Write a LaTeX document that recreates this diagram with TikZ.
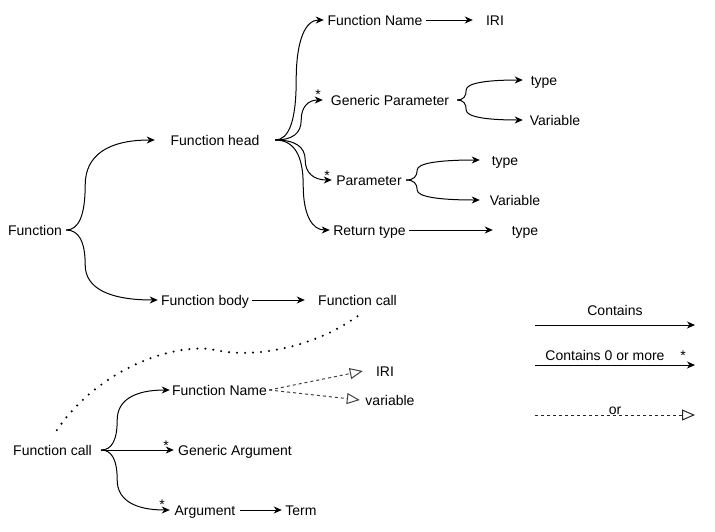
\documentclass[tikz,border=0pt]{standalone}
\usepackage{fontspec}
\setmainfont{Liberation Sans}
\usetikzlibrary{arrows.meta,calc}
\begin{document}
\begin{tikzpicture}[x=1pt,y=-1pt,
  lbl/.style={font=\fontsize{14}{16}\selectfont, inner sep=0pt, text height=10pt, text depth=0pt, minimum height=14pt, align=center},
  starlbl/.style={font=\fontsize{14}{16}\selectfont, inner sep=0pt},
  arr/.style={draw=black, line width=1pt, -{Stealth[length=8pt,width=7pt,inset=2.5pt]}},
  orarr/.style={draw=black!75, line width=1pt, dash pattern=on 3pt off 3pt, -{Triangle[open,length=13pt,width=11pt]}},
  dotline/.style={draw=black, line width=2.3pt, line cap=round, dash pattern=on 0pt off 8pt},
  fork/.style={to path={let \p1=(\tikztostart), \p2=(\tikztotarget), \n1={0.5*(\y1+\y2)}, \n2={\x1+#1} in
    .. controls ({\x1+0.6667*#1*1pt},{\y1}) and ({\n2*1pt},{0.6667*\y1+0.3333*\n1*1pt}) .. ({\n2*1pt},{\n1*1pt})
    .. controls ({\n2*1pt},{0.3333*\n1*1pt+0.6667*\y2}) and ({0.3333*\x2+0.6667*\n2*1pt},{\y2}) .. (\tikztotarget)}}
]
\useasboundingbox (0,0) rectangle (715,531);

% ---------- top tree ----------
\node[lbl, minimum width=62]  (f)   at (35,230)    {Function};
\node[lbl, minimum width=120] (fh)  at (215,140)   {Function head};
\node[lbl, minimum width=94]  (fb)  at (205,300)   {Function body};
\node[lbl, minimum width=105] (fc)  at (357.5,300) {Function call};
\node[lbl, minimum width=102] (fn)  at (375,20)    {Function Name};
\node[lbl, minimum width=44]  (iri) at (495,20)    {IRI};
\node[lbl, minimum width=134] (gp)  at (390,100)   {Generic Parameter};
\node[lbl, minimum width=42]  (gpt) at (544,80)    {type};
\node[lbl, minimum width=64]  (gpv) at (555,120)   {Variable};
\node[lbl, minimum width=74]  (par) at (369,180)   {Parameter};
\node[lbl, minimum width=50]  (pt)  at (505,160)   {type};
\node[lbl, minimum width=70]  (pv)  at (515,200)   {Variable};
\node[lbl, minimum width=79]  (rt)  at (369.5,230) {Return type};
\node[lbl, minimum width=64]  (rtt) at (525,230)   {type};

\draw[arr] (f.east) to[fork=19] (fh.west);
\draw[arr] (f.east) to[fork=19] (fb.west);
\draw[arr] (fb.east) -- (fc.west);
\draw[arr] (fh.east) to[fork=21] (fn.west);
\draw[arr] (fh.east) to[fork=26] (gp.west);
\draw[arr] (fh.east) to[fork=30] (par.west);
\draw[arr] (fh.east) to[fork=28] (rt.west);
\draw[arr] (fn.east) -- (iri.west);
\draw[arr] (gp.east) to[fork=9] (gpt.west);
\draw[arr] (gp.east) to[fork=9] (gpv.west);
\draw[arr] (par.east) to[fork=11] (pt.west);
\draw[arr] (par.east) to[fork=11] (pv.west);
\draw[arr] (rt.east) -- (rtt.west);

\node[starlbl] (s1) at (318,95)  {*};
\node[starlbl] (s2) at (327,176) {*};

% ---------- bottom tree ----------
\node[lbl, minimum width=97]  (fc2)  at (52.5,450)  {Function call};
\node[lbl, minimum width=99]  (fn2)  at (219.5,390) {Function Name};
\node[lbl, minimum width=44]  (iri2) at (385,371)   {IRI};
\node[lbl, minimum width=60]  (var2) at (390,400)   {variable};
\node[lbl, minimum width=122] (ga)   at (235,450)   {Generic Argument};
\node[lbl, minimum width=70]  (arg)  at (205,510)   {Argument};
\node[lbl, minimum width=38]  (term) at (301,510)   {Term};

\draw[arr] (fc2.east) to[fork=16] (fn2.west);
\draw[arr] (fc2.east) -- (ga.west);
\draw[arr] (fc2.east) to[fork=16] (arg.west);
\draw[arr] (arg.east) -- (term.west);
\draw[orarr] (fn2.east) -- (iri2.west);
\draw[orarr] (fn2.east) -- (var2.west);

\node[starlbl] (s3) at (166,446) {*};
\node[starlbl] (s4) at (162,505) {*};

\coordinate (dmid) at (215,350);
\draw[dotline] ([yshift=-9pt]fc.south) .. controls (310,350) and (250,358) .. (dmid)
  .. controls (180,342) and (100,365) .. ([yshift=10pt,xshift=2.5pt]fc2.north);

% ---------- legend ----------
\coordinate (l1a) at (535,325); \coordinate (l1b) at (695,325);
\coordinate (l2a) at (535,365); \coordinate (l2b) at (695,365);
\coordinate (l3a) at (535,415); \coordinate (l3b) at (695,415);
\draw[orarr, draw=black!85] (l3a) -- (l3b);
\draw[arr] (l1a) -- (l1b);
\draw[arr] (l2a) -- (l2b);
\node[lbl] (t1) at (615,310) {Contains};
\node[lbl] (t2) at (605,355) {Contains 0 or more};
\node[starlbl] (s5) at (683,356) {*};
\node[lbl] (t3) at (615,409) {or};
\end{tikzpicture}
\end{document}
